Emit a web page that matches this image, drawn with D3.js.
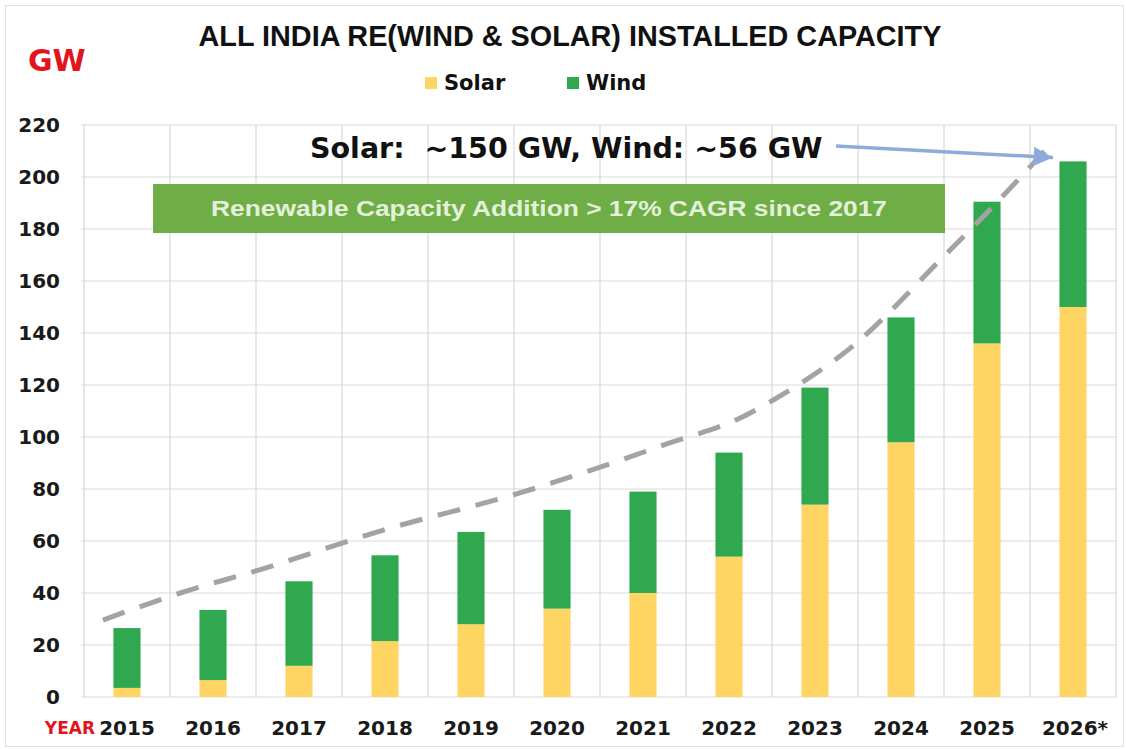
<!DOCTYPE html>
<html>
<head>
<meta charset="utf-8">
<script src="https://cdn.jsdelivr.net/npm/d3@7"></script>
<style>
  body { margin: 0; background: #fff; }
  text { font-family: "DejaVu Sans", sans-serif; font-weight: bold; }
</style>
</head>
<body>
<svg id="grafico"></svg>
<script>
// datos del grafico (GW instalados)
const years = ["2015", "2016", "2017", "2018", "2019", "2020", "2021", "2022", "2023", "2024", "2025", "2026*"]
const solar = [3.5, 6.5, 12, 21.5, 28, 34, 40, 54, 74, 98, 136, 150]
const wind = [23, 27, 32.5, 33, 35.5, 38, 39, 40, 45, 48, 54.5, 56]
const yTicks = [0, 20, 40, 60, 80, 100, 120, 140, 160, 180, 200, 220]

// linea de tendencia punteada: posicion en "indice de año" y valor
const trendPos = [-0.28, 0.62, 1.55, 2.98, 4.53, 5.30, 6.31, 7.13, 7.63, 8.41, 9.49, 10.12, 10.67]
const trendVal = [29.6, 40, 49, 64.2, 78.1, 86.2, 97.7, 107.3, 116.5, 134.2, 169.2, 190.4, 210]

const ancho = 1127
const alto = 749
const margen = {top: 125, right: 11, bottom: 52, left: 84}

const svg = d3.select("#grafico")
  .attr("width", ancho)
  .attr("height", alto)

// marco gris claro alrededor de la imagen
svg.append("rect")
  .attr("x", 5.5).attr("y", 5.5)
  .attr("width", ancho - 9).attr("height", alto - 8)
  .style("fill", "white")
  .style("stroke", "#e2e2e2")

const x = d3.scaleBand()
  .domain(years)
  .range([margen.left, ancho - margen.right])
  .padding(0)

const y = d3.scaleLinear()
  .domain([0, 220])
  .range([alto - margen.bottom, margen.top])

const xi = d3.scaleLinear()
  .domain([0, years.length - 1])
  .range([x(years[0]) + x.bandwidth() / 2, x(years[years.length - 1]) + x.bandwidth() / 2])

// grilla horizontal
svg.append("g")
  .selectAll("line")
  .data(yTicks)
  .join("line")
  .attr("x1", margen.left - 3)
  .attr("x2", ancho - margen.right)
  .attr("y1", d => y(d))
  .attr("y2", d => y(d))
  .style("stroke", "#d9d9d9")
  .style("stroke-width", 1.2)

// grilla vertical (bordes de cada año)
const bordes = years.map(d => x(d)).concat([ancho - margen.right])
svg.append("g")
  .selectAll("line")
  .data(bordes)
  .join("line")
  .attr("x1", d => d)
  .attr("x2", d => d)
  .attr("y1", y(220))
  .attr("y2", y(0))
  .style("stroke", "#d9d9d9")
  .style("stroke-width", 1.2)

// etiquetas eje y
svg.append("g")
  .selectAll("text")
  .data(yTicks)
  .join("text")
  .attr("x", 60)
  .attr("y", d => y(d))
  .attr("dy", "0.36em")
  .attr("text-anchor", "end")
  .style("font-size", "20px")
  .style("fill", "#1a1a1a")
  .text(d => d)

// etiquetas eje x
svg.append("g")
  .selectAll("text")
  .data(years)
  .join("text")
  .attr("x", d => x(d) + x.bandwidth() / 2 + (d === "2026*" ? 2 : 0))
  .attr("y", 735)
  .attr("text-anchor", "middle")
  .style("font-size", "20px")
  .style("fill", "#1a1a1a")
  .text(d => d)

svg.append("text")
  .attr("x", 95)
  .attr("y", 734)
  .attr("text-anchor", "end")
  .style("font-size", "17px")
  .style("fill", "#e3141e")
  .text("YEAR")

// barras apiladas
const tabla = years.map((d, i) => ({year: d, solar: solar[i], wind: wind[i]}))
const series = d3.stack().keys(["solar", "wind"])(tabla)
const colores = {solar: "#fed462", wind: "#2fa84f"}
const anchoBarra = x.bandwidth() * 0.315

svg.append("g")
  .selectAll("g")
  .data(series)
  .join("g")
  .style("fill", d => colores[d.key])
  .selectAll("rect")
  .data(d => d)
  .join("rect")
  .attr("x", d => x(d.data.year) + x.bandwidth() / 2 - anchoBarra / 2)
  .attr("y", d => y(d[1]))
  .attr("height", d => y(d[0]) - y(d[1]))
  .attr("width", anchoBarra)

// tendencia punteada
const linea = d3.line()
  .x(d => xi(d[0]))
  .y(d => y(d[1]))
  .curve(d3.curveMonotoneX)

svg.append("path")
  .datum(trendPos.map((p, i) => [p, trendVal[i]]))
  .attr("d", linea)
  .style("fill", "none")
  .style("stroke", "#a3a3a3")
  .style("stroke-width", 5)
  .style("stroke-dasharray", "23,16")

// banner verde
svg.append("rect")
  .attr("x", 153).attr("y", 184)
  .attr("width", 792).attr("height", 49)
  .style("fill", "#6fad46")

svg.append("text")
  .attr("x", 211)
  .attr("y", 216)
  .attr("textLength", 676)
  .attr("lengthAdjust", "spacingAndGlyphs")
  .style("font-family", "'Liberation Sans', Arial, sans-serif")
  .style("font-size", "22px")
  .style("fill", "#e4f1da")
  .text("Renewable Capacity Addition > 17% CAGR since 2017")

// flecha hacia la barra 2026
svg.append("defs").append("marker")
  .attr("id", "punta")
  .attr("viewBox", "0 0 10 10")
  .attr("refX", 10).attr("refY", 5)
  .attr("markerWidth", 6).attr("markerHeight", 5.5)
  .attr("orient", "auto")
  .append("path")
  .attr("d", "M0,0 L10,5 L0,10 z")
  .style("fill", "#8eaadb")

svg.append("line")
  .attr("x1", 836).attr("y1", 146)
  .attr("x2", xi(years.length - 1) - 20).attr("y2", y(207.5))
  .style("stroke", "#8eaadb")
  .style("stroke-width", 3.5)
  .attr("marker-end", "url(#punta)")

svg.append("text")
  .attr("x", 310)
  .attr("y", 158)
  .style("font-size", "28.5px")
  .style("fill", "#111")
  .style("white-space", "pre")
  .text("Solar:  ~150 GW, Wind: ~56 GW")

// titulo
svg.append("text")
  .attr("x", 570)
  .attr("y", 46)
  .attr("text-anchor", "middle")
  .style("font-family", "'Liberation Sans', Arial, sans-serif")
  .style("font-size", "28.8px")
  .style("fill", "#111")
  .text("ALL INDIA RE(WIND & SOLAR) INSTALLED CAPACITY")

svg.append("text")
  .attr("x", 28)
  .attr("y", 71)
  .style("font-size", "30px")
  .style("fill", "#e3141e")
  .text("GW")

// leyenda
const leyenda = [{key: "solar", label: "Solar", x: 425}, {key: "wind", label: "Wind", x: 567}]
const itemLeyenda = svg.append("g")
  .selectAll("g")
  .data(leyenda)
  .join("g")
  .attr("transform", d => `translate(${d.x},0)`)

itemLeyenda.append("rect")
  .attr("x", 0).attr("y", 77)
  .attr("width", 12).attr("height", 12)
  .style("fill", d => colores[d.key])

itemLeyenda.append("text")
  .attr("x", 19)
  .attr("y", 90)
  .style("font-size", "21px")
  .style("fill", "#111")
  .text(d => d.label)
</script>
</body>
</html>
